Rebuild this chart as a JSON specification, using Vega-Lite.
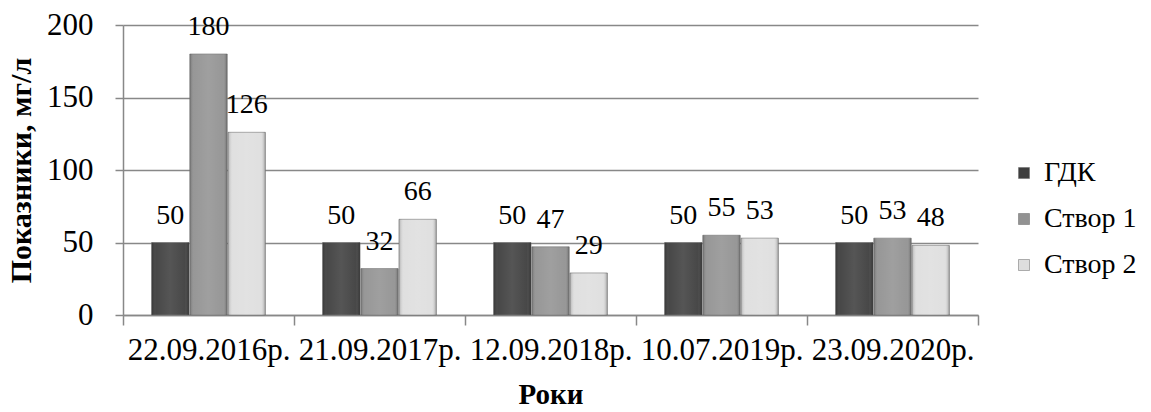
{
  "$schema": "https://vega.github.io/schema/vega-lite/v6.json",
  "autosize": "none",
  "padding": {"left": 123, "top": 25, "right": 173, "bottom": 97},
  "width": 855,
  "height": 290,
  "background": "white",
  "config": {
    "font": "Liberation Serif",
    "view": {"stroke": null}
  },
  "data": {
    "values": [
      {"date": "22.09.2016р.", "series": "ГДК", "value": 50},
      {"date": "22.09.2016р.", "series": "Створ 1", "value": 180},
      {"date": "22.09.2016р.", "series": "Створ 2", "value": 126},
      {"date": "21.09.2017р.", "series": "ГДК", "value": 50},
      {"date": "21.09.2017р.", "series": "Створ 1", "value": 32},
      {"date": "21.09.2017р.", "series": "Створ 2", "value": 66},
      {"date": "12.09.2018р.", "series": "ГДК", "value": 50},
      {"date": "12.09.2018р.", "series": "Створ 1", "value": 47},
      {"date": "12.09.2018р.", "series": "Створ 2", "value": 29},
      {"date": "10.07.2019р.", "series": "ГДК", "value": 50},
      {"date": "10.07.2019р.", "series": "Створ 1", "value": 55},
      {"date": "10.07.2019р.", "series": "Створ 2", "value": 53},
      {"date": "23.09.2020р.", "series": "ГДК", "value": 50},
      {"date": "23.09.2020р.", "series": "Створ 1", "value": 53},
      {"date": "23.09.2020р.", "series": "Створ 2", "value": 48}
    ]
  },
  "encoding": {
    "x": {
      "field": "date",
      "type": "nominal",
      "sort": ["22.09.2016р.", "21.09.2017р.", "12.09.2018р.", "10.07.2019р.", "23.09.2020р."],
      "scale": {"paddingInner": 0, "paddingOuter": 0},
      "axis": {
        "title": "Роки",
        "titleFont": "Liberation Serif",
        "titleFontSize": 29,
        "titleFontWeight": "bold",
        "titleColor": "black",
        "titlePadding": 15,
        "labelFont": "Liberation Serif",
        "labelFontSize": 31,
        "labelColor": "black",
        "labelAngle": 0,
        "labelPadding": 10,
        "labelOverlap": false,
        "tickBand": "extent",
        "tickSize": 10,
        "tickColor": "#888888",
        "tickWidth": 1.5,
        "domainColor": "#888888",
        "domainWidth": 1.5
      }
    },
    "xOffset": {
      "field": "series",
      "type": "nominal",
      "sort": ["ГДК", "Створ 1", "Створ 2"],
      "scale": {"paddingInner": 0.02, "paddingOuter": 0.75}
    },
    "y": {
      "field": "value",
      "type": "quantitative",
      "scale": {"domain": [0, 200], "nice": false},
      "axis": {
        "title": "Показники, мг/л",
        "titleFont": "Liberation Serif",
        "titleFontSize": 30,
        "titleFontWeight": "bold",
        "titleColor": "black",
        "titlePadding": 10,
        "labelFont": "Liberation Serif",
        "labelFontSize": 31,
        "labelColor": "black",
        "labelPadding": 22,
        "values": [0, 50, 100, 150, 200],
        "tickSize": 8,
        "tickColor": "#888888",
        "tickWidth": 1.5,
        "domainColor": "#888888",
        "domainWidth": 1.5,
        "gridColor": "#888888",
        "gridWidth": 1.5
      }
    }
  },
  "layer": [
    {
      "mark": {"type": "bar", "stroke": "#6f6f6f", "strokeWidth": 0.6},
      "encoding": {
        "color": {
          "field": "series",
          "type": "nominal",
          "sort": ["ГДК", "Створ 1", "Створ 2"],
          "scale": {"domain": ["ГДК", "Створ 1", "Створ 2"], "range": ["#3e3e3e", "#929292", "#dedede"]},
          "legend": {
            "title": null,
            "orient": "none",
            "legendX": 887,
            "legendY": 134,
            "symbolType": "square",
            "symbolSize": 121,
            "symbolStrokeColor": "#666666",
            "symbolStrokeWidth": 0.5,
            "labelFont": "Liberation Serif",
            "labelFontSize": 28,
            "labelColor": "black",
            "labelOffset": 6,
            "rowPadding": 18
          }
        }
      }
    },
    {
      "mark": {
        "type": "bar",
        "fill": {
          "gradient": "linear",
          "x1": 0, "y1": 0, "x2": 1, "y2": 0,
          "stops": [
            {"offset": 0, "color": "rgba(0,0,0,0.22)"},
            {"offset": 0.12, "color": "rgba(255,255,255,0.05)"},
            {"offset": 0.5, "color": "rgba(255,255,255,0.12)"},
            {"offset": 0.88, "color": "rgba(255,255,255,0.05)"},
            {"offset": 1, "color": "rgba(0,0,0,0.28)"}
          ]
        }
      },
      "encoding": {}
    },
    {
      "mark": {"type": "text", "baseline": "bottom", "dy": -13, "font": "Liberation Serif", "fontSize": 28, "color": "black"},
      "encoding": {
        "text": {"field": "value", "type": "quantitative"}
      }
    }
  ]
}
